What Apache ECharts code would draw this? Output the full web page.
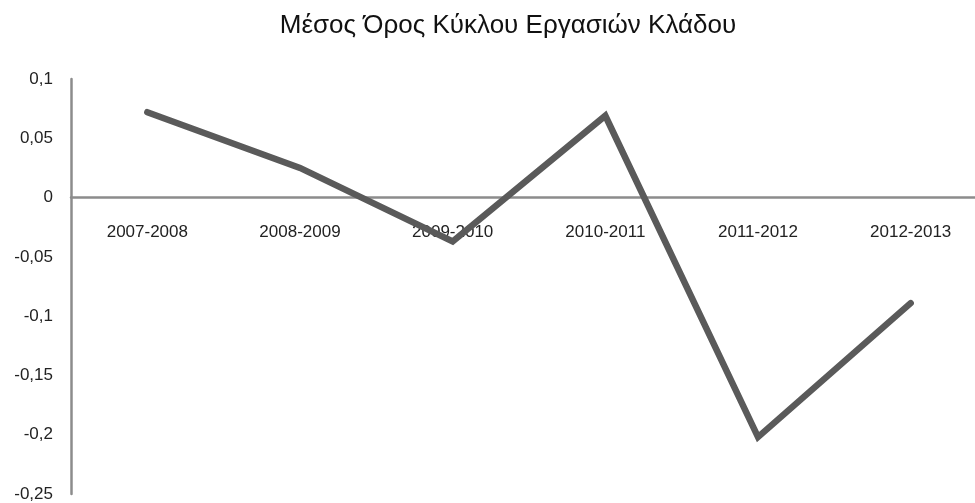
<!DOCTYPE html>
<html>
<head>
<meta charset="utf-8">
<script src="https://cdn.jsdelivr.net/npm/echarts@6/dist/echarts.min.js"></script>
<style>
  html, body { margin: 0; padding: 0; background: #fff; }
  #chart { width: 975px; height: 503px; }
</style>
</head>
<body>
<div id="chart"></div>
<script>
// Average turnover change per fiscal year
const titleText = 'Μέσος Όρος Κύκλου Εργασιών Κλάδου';
const years = ['2007-2008', '2008-2009', '2009-2010', '2010-2011', '2011-2012', '2012-2013'];
const values = [0.072, 0.025, -0.037, 0.069, -0.202, -0.089];
const yTicks = { min: -0.25, max: 0.1, step: 0.05 };

const font = '"Liberation Sans", Arial, sans-serif';

// plot area
const gridTop = 79, gridBottom = 9, chartH = 503;
const plotH = chartH - gridTop - gridBottom;
// lift the category axis (line and labels together) up to the zero line
const zeroOffset = -plotH * (0 - yTicks.min) / (yTicks.max - yTicks.min);

const chart = echarts.init(document.getElementById('chart'));
chart.setOption({
  animation: false,
  backgroundColor: '#fff',
  title: {
    text: titleText,
    left: 503,
    textAlign: 'center',
    top: 8,
    textStyle: { fontFamily: font, fontSize: 26, fontWeight: 'normal', color: '#111' }
  },
  grid: { left: 71, right: -12, top: gridTop, bottom: gridBottom, containLabel: false, outerBoundsMode: 'none' },
  xAxis: {
    type: 'category',
    data: years,
    boundaryGap: true,
    position: 'bottom',
    offset: zeroOffset,
    axisLine: { onZero: false, lineStyle: { color: '#8c8c8c', width: 2.5 } },
    axisTick: { show: false },
    axisLabel: { margin: 26, fontFamily: font, fontSize: 17, color: '#222' },
    splitLine: { show: false }
  },
  yAxis: {
    type: 'value',
    min: yTicks.min,
    max: yTicks.max,
    interval: yTicks.step,
    axisLine: { show: true, lineStyle: { color: '#8c8c8c', width: 2.5 } },
    axisTick: { show: false },
    splitLine: { show: false },
    axisLabel: {
      margin: 18,
      fontFamily: font,
      fontSize: 17,
      color: '#222',
      formatter: v => String(Math.round(v * 100) / 100).replace('.', ',')
    }
  },
  series: [{
    type: 'line',
    data: values,
    showSymbol: false,
    symbol: 'none',
    z: 3,
    lineStyle: { color: '#5a5a5a', width: 6.5, cap: 'round', join: 'miter' }
  }]
});
</script>
</body>
</html>
